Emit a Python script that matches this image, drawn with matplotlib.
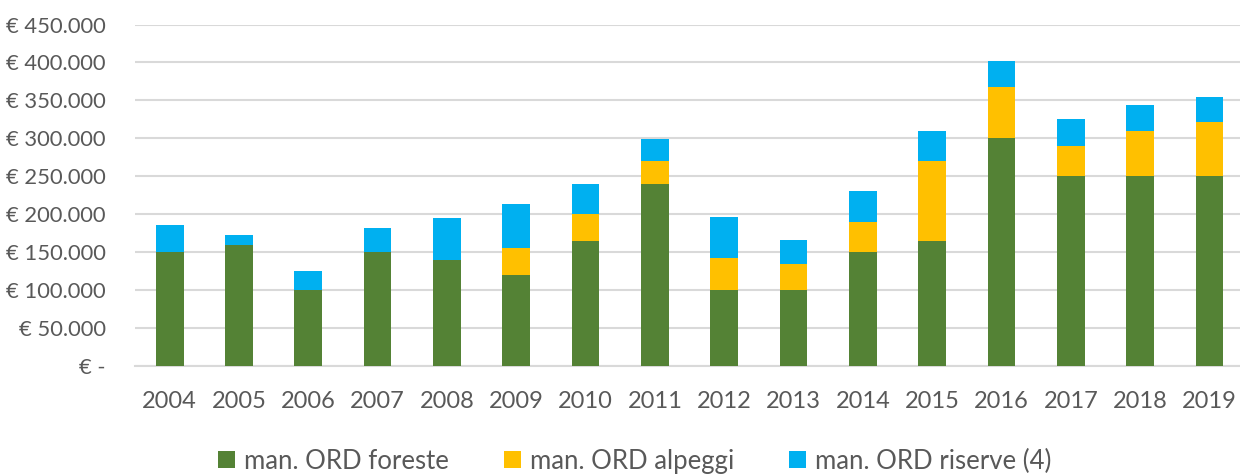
import matplotlib
matplotlib.use("Agg")
import matplotlib.pyplot as plt
import numpy as np

years = ["2004", "2005", "2006", "2007", "2008", "2009", "2010", "2011",
         "2012", "2013", "2014", "2015", "2016", "2017", "2018", "2019"]
foreste = [150000, 160000, 100000, 150000, 140000, 120000, 165000, 240000,
           100000, 100000, 150000, 165000, 300000, 250000, 250000, 250000]
alpeggi = [0, 0, 0, 0, 0, 35000, 35000, 30000,
           42000, 35000, 40000, 105000, 67000, 40000, 60000, 71000]
riserve = [36000, 12000, 25000, 32000, 55000, 58000, 40000, 29000,
           54000, 31000, 40000, 40000, 35000, 35000, 34000, 34000]
series_names = ["man. ORD foreste", "man. ORD alpeggi", "man. ORD riserve (4)"]
colors = ["#548235", "#FFC000", "#00B0F0"]
yticks = [0, 50000, 100000, 150000, 200000, 250000, 300000, 350000, 400000, 450000]
ytick_labels = ["€ -", "€ 50.000", "€ 100.000", "€ 150.000", "€ 200.000",
                "€ 250.000", "€ 300.000", "€ 350.000", "€ 400.000", "€ 450.000"]

plt.rcParams['font.family'] = ['Lato', 'DejaVu Sans']
text_color = "#595959"
fs = 17

fig = plt.figure(figsize=(12.4, 4.76), dpi=100)
ax = fig.add_axes([135 / 1240, 110 / 476, 1105 / 1240, 341.5 / 476])

x = np.arange(len(years))
w = 0.40
f = np.array(foreste)
a = np.array(alpeggi)
r = np.array(riserve)
ax.bar(x, f, w, color=colors[0], label=series_names[0], zorder=3)
ax.bar(x, a, w, bottom=f, color=colors[1], label=series_names[1], zorder=3)
ax.bar(x, r, w, bottom=f + a, color=colors[2], label=series_names[2], zorder=3)

ax.set_xlim(-0.5, 15.44)
ax.set_ylim(0, 450000)
ax.set_yticks(yticks)
ax.set_yticklabels(ytick_labels)
ax.set_xticks(x)
ax.set_xticklabels(years)
ax.tick_params(axis='both', length=0, colors=text_color)
ax.tick_params(axis='x', labelsize=fs, pad=18)
ax.tick_params(axis='y', labelsize=15.8, pad=21)
ax.grid(axis='y', color="#D9D9D9", linewidth=1.5, zorder=0)
for s in ["top", "right", "left"]:
    ax.spines[s].set_visible(False)
ax.spines["bottom"].set_color("#D9D9D9")
ax.spines["bottom"].set_linewidth(1.5)

handles, labels = ax.get_legend_handles_labels()
leg = fig.legend(handles, labels, loc="center", bbox_to_anchor=(0.512, 0.0315),
                 ncol=3, frameon=False, fontsize=18.5, handlelength=0.64,
                 handleheight=0.64, handletextpad=0.36, columnspacing=2.15,
                 labelcolor=text_color)

fig.savefig("out.png", dpi=100, facecolor="white")
